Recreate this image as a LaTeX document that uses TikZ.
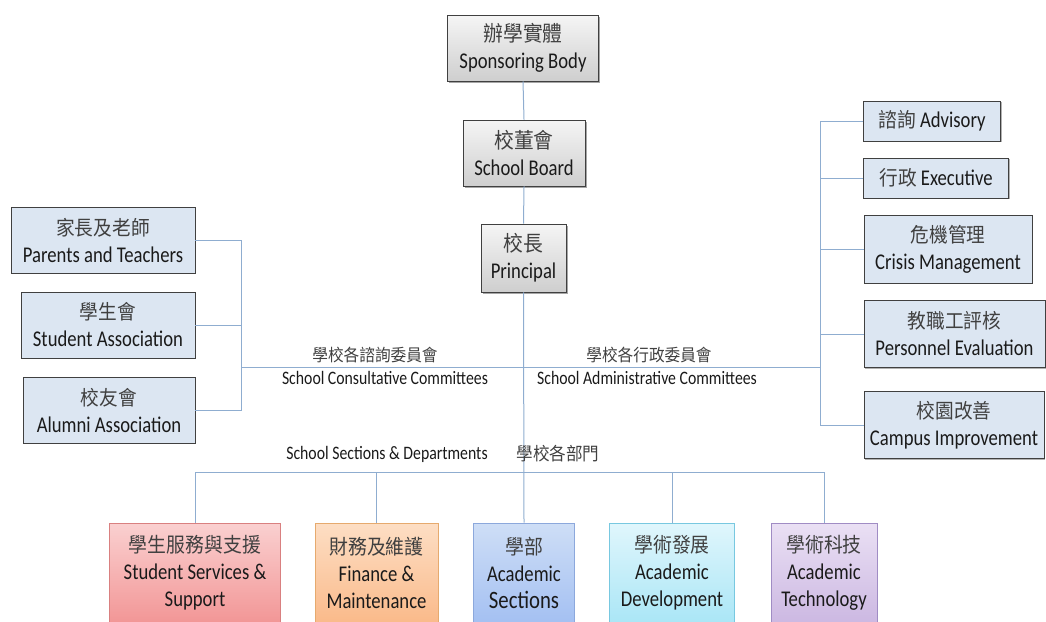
\documentclass[tikz,border=0pt]{standalone}
\usepackage{fontspec}
\setmainfont[FakeStretch=0.83]{Carlito}
\newfontfamily\cjk[FakeStretch=0.92]{Noto Sans CJK TC}
\usetikzlibrary{shadows}
\definecolor{lnc}{HTML}{8FADD0}
\definecolor{txc}{HTML}{1A1A1A}
\definecolor{zhc}{HTML}{404040}
\definecolor{sidefill}{HTML}{DCE6F2}
\definecolor{ssd}{RGB}{217,128,128}\definecolor{sst}{RGB}{250,208,208}\definecolor{ssb}{RGB}{242,150,150}
\definecolor{find}{RGB}{230,170,110}\definecolor{fint}{RGB}{253,222,196}\definecolor{finb}{RGB}{250,186,138}
\definecolor{acsd}{RGB}{140,168,220}\definecolor{acst}{RGB}{206,222,246}\definecolor{acsb}{RGB}{164,192,242}
\definecolor{devd}{RGB}{120,200,224}\definecolor{devt}{RGB}{224,246,252}\definecolor{devb}{RGB}{170,230,246}
\definecolor{tecd}{RGB}{160,140,196}\definecolor{tect}{RGB}{234,224,244}\definecolor{tecb}{RGB}{204,184,226}
\newcommand{\zh}[1]{{\cjk\color{zhc}#1}}
\tikzset{
  base/.style={inner sep=0pt, align=center, text=txc, font=\fontsize{22.5}{27}\selectfont},
  graybox/.style={base, draw=black!75, line width=0.9pt, top color=gray!8, bottom color=gray!38,
     drop shadow={shadow xshift=1.5pt, shadow yshift=-1.5pt, opacity=0.35, fill=black}},
  sidebox/.style={base, draw=black!75, line width=0.9pt, fill=sidefill,
     drop shadow={shadow xshift=1.2pt, shadow yshift=-1.2pt, opacity=0.3, fill=black}},
  botbox/.style={base, line width=0.9pt, minimum height=100pt},
  conn/.style={draw=lnc, line width=1pt},
  lab/.style={inner sep=0pt, text=txc, font=\fontsize{19}{20}\selectfont},
}
\begin{document}
\begin{tikzpicture}[x=1pt,y=-1pt]
\useasboundingbox (0,0) rectangle (1046,621);
% top chain
\node[graybox, minimum width=151pt, minimum height=66pt] (sb) at (523,48) {\zh{\fontsize{21.5}{27}\selectfont 辦學實體}\\Sponsoring Body};
\node[graybox, minimum width=122pt, minimum height=66pt] (board) at (524,153) {\zh{\fontsize{21.5}{27}\selectfont 校董會}\\School Board};
\node[graybox, minimum width=85pt, minimum height=68pt] (prin) at (523.5,258) {\zh{\fontsize{21.5}{27}\selectfont 校長}\\Principal};
% left boxes
\node[sidebox, minimum width=184pt, minimum height=66pt] (pt) at (103,240) {\zh{\fontsize{20.3}{27}\selectfont 家長及老師}\\Parents and Teachers};
\node[sidebox, minimum width=174pt, minimum height=66pt] (sa) at (108,325) {\zh{\fontsize{20.3}{27}\selectfont 學生會}\\Student Association};
\node[sidebox, minimum width=172pt, minimum height=66pt] (aa) at (109,410) {\zh{\fontsize{20.3}{27}\selectfont 校友會}\\Alumni Association};
% right boxes
\node[sidebox, minimum width=137pt, minimum height=40pt] (adv) at (932,121) {\zh{\fontsize{20.3}{27}\selectfont 諮詢} Advisory};
\node[sidebox, minimum width=145pt, minimum height=40pt] (exe) at (936,178) {\zh{\fontsize{20.3}{27}\selectfont 行政} Executive};
\node[sidebox, minimum width=168pt, minimum height=68pt] (cri) at (948,249) {\zh{\fontsize{20.3}{27}\selectfont 危機管理}\\Crisis Management};
\node[sidebox, minimum width=181pt, minimum height=67pt] (per) at (954.5,334) {\zh{\fontsize{20.3}{27}\selectfont 教職工評核}\\Personnel  Evaluation};
\node[sidebox, minimum width=180pt, minimum height=67pt] (cam) at (954,425) {\zh{\fontsize{20.3}{27}\selectfont 校園改善}\\Campus Improvement};
% bottom boxes
\node[botbox, minimum width=171pt, draw=ssd, top color=sst, bottom color=ssb] (ss) at (195,573) {\zh{\fontsize{20.5}{27}\selectfont 學生服務與支援}\\Student Services \&\\Support};
\node[botbox, minimum width=123pt, draw=find, top color=fint, bottom color=finb] (fin) at (376.5,573) {\zh{\fontsize{20.5}{27}\selectfont 財務及維護}\\Finance \&\\Maintenance};
\node[botbox, minimum width=101pt, draw=acsd, top color=acst, bottom color=acsb] (acs) at (524,573) {\zh{\fontsize{20.5}{27}\selectfont 學部}\\Academic\\{\fontsize{25}{27}\selectfont Sections}};
\node[botbox, minimum width=125pt, draw=devd, top color=devt, bottom color=devb] (dev) at (672,573) {\zh{\fontsize{20.5}{27}\selectfont 學術發展}\\Academic\\Development};
\node[botbox, minimum width=106pt, draw=tecd, top color=tect, bottom color=tecb] (tech) at (824,573) {\zh{\fontsize{20.5}{27}\selectfont 學術科技}\\Academic\\Technology};
% junctions
\coordinate (lj) at (241,367);
\coordinate (rj) at (820,367);
\coordinate (bj) at (524,472);
% connectors
\draw[conn] (sb.south) -- (board.north);
\draw[conn] (board.south) -- (prin.north);
\draw[conn] (prin.south) -- (acs.north);
\draw[conn] (pt.east) -| (lj);
\draw[conn] (sa.east) -| (lj);
\draw[conn] (aa.east) -| (lj);
\draw[conn] (lj) -- (rj);
\draw[conn] (adv.west) -| (rj);
\draw[conn] (exe.west) -| (rj);
\draw[conn] (cri.west) -| (rj);
\draw[conn] (per.west) -| (rj);
\draw[conn] (cam.west) -| (rj);
\draw[conn] (ss.north) |- (bj);
\draw[conn] (fin.north) |- (bj);
\draw[conn] (dev.north) |- (bj);
\draw[conn] (tech.north) |- (bj);
% labels
\node[lab] (l1) at (375,355) {\zh{\fontsize{17}{20}\selectfont 學校各諮詢委員會}};
\node[lab] (l2) at (385,378) {School Consultative Committees};
\node[lab] (l3) at (649,355) {\zh{\fontsize{17}{20}\selectfont 學校各行政委員會}};
\node[lab] (l4) at (647,378) {School Administrative Committees};
\node[lab] (l5) at (387,454) {School Sections \& Departments};
\node[lab] (l6) at (558,454) {\zh{\fontsize{18}{20}\selectfont 學校各部門}};
\end{tikzpicture}
\end{document}
